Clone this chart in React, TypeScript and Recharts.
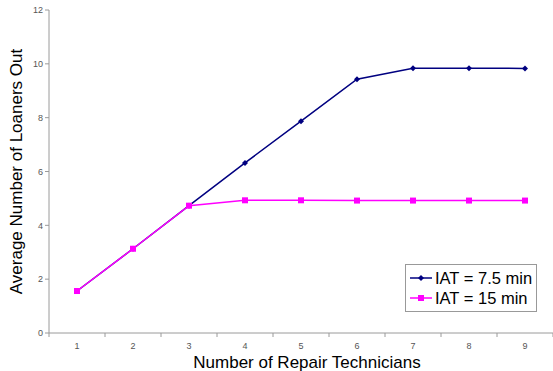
import { LineChart, Line, XAxis, YAxis, Legend } from "recharts";

const technicians = [1, 2, 3, 4, 5, 6, 7, 8, 9];
const iat75 = [1.56, 3.13, 4.73, 6.32, 7.87, 9.43, 9.84, 9.84, 9.83];
const iat15 = [1.56, 3.13, 4.73, 4.93, 4.93, 4.92, 4.92, 4.92, 4.92];
const yTicks = [0, 2, 4, 6, 8, 10, 12];
// excel puts the tick marks between categories, labels in the middle
const xTicks = [0.5, 1, 1.5, 2, 2.5, 3, 3.5, 4, 4.5, 5, 5.5, 6, 6.5, 7, 7.5, 8, 8.5, 9, 9.5];

const data = technicians.map((t, i) => ({ t, a: iat75[i], b: iat15[i] }));

const FONT = '"Liberation Sans", Arial, sans-serif';
const AXIS = "#9a9a9a";

// blue diamonds, pink squares like the old Excel defaults
const Diamond = (props: any) => {
    const { cx, cy } = props;
    if (cx == null || cy == null) return null;
    return <path d={`M${cx},${cy - 3}L${cx + 3},${cy}L${cx},${cy + 3}L${cx - 3},${cy}Z`} fill="#000080" />;
};

const Square = (props: any) => {
    const { cx, cy } = props;
    if (cx == null || cy == null) return null;
    return <rect x={cx - 3} y={cy - 3} width={6} height={6} fill="#ff00ff" />;
};

const XTick = (props: any) => {
    const { x, y, payload } = props;
    const v = payload.value;
    if (Number.isInteger(v)) {
        return (
            <text x={x} y={y + 16} textAnchor="middle" fontSize={9} fill="#555" fontFamily={FONT}>
                {v}
            </text>
        );
    }
    return <line x1={x} y1={y} x2={x} y2={y + 4} stroke={AXIS} />;
};

function LegendBox({ payload }: any) {
    return (
        <div style={{ border: "1px solid #999", background: "#fff", padding: "3px 4px 3px 4px", fontFamily: FONT, fontSize: 16.5, color: "#000" }}>
            {(payload || []).map((p: any, i: number) => (
                <div key={i} style={{ display: "flex", alignItems: "center", height: 20 }}>
                    <svg width={22} height={10} style={{ marginRight: 3 }}>
                        <line x1={0} y1={5} x2={22} y2={5} stroke={p.color} strokeWidth={1.5} />
                        {p.dataKey === "a"
                            ? <path d="M11,2L14,5L11,8L8,5Z" fill={p.color} />
                            : <rect x={8} y={2} width={6} height={6} fill={p.color} />}
                    </svg>
                    <span>{p.value}</span>
                </div>
            ))}
        </div>
    );
}

export default function App() {
    return (
        <div style={{ position: "absolute", left: 0, top: 0, background: "#fff" }}>
            <LineChart width={553} height={371} data={data} margin={{ top: 10, right: 0, left: 8, bottom: 0 }}>
                <XAxis
                    dataKey="t"
                    type="number"
                    domain={[0.5, 9.5]}
                    ticks={xTicks}
                    interval={0}
                    tickLine={false}
                    tickSize={0}
                    tickMargin={0}
                    stroke={AXIS}
                    height={38}
                    tick={<XTick />}
                    label={{ value: "Number of Repair Technicians", position: "insideBottom", offset: 3, dx: 6, fontSize: 17, fill: "#000", fontFamily: FONT }}
                />
                <YAxis
                    domain={[0, 12]}
                    ticks={yTicks}
                    width={41}
                    stroke={AXIS}
                    tickSize={4}
                    tick={{ fontSize: 9, fill: "#555", fontFamily: FONT }}
                    label={{ value: "Average Number of Loaners Out", angle: -90, position: "insideLeft", offset: 2, dx: 6, style: { textAnchor: "middle" }, fontSize: 17, fill: "#000", fontFamily: FONT }}
                />
                <Legend
                    layout="vertical"
                    verticalAlign="middle"
                    align="center"
                    itemSorter="dataKey"
                    wrapperStyle={{ left: 405, top: 264, width: "auto" }}
                    content={<LegendBox />}
                />
                <Line
                    dataKey="a"
                    name="IAT = 7.5 min"
                    stroke="#000080"
                    strokeWidth={1.5}
                    dot={<Diamond />}
                    activeDot={false}
                    isAnimationActive={false}
                />
                <Line
                    dataKey="b"
                    name="IAT = 15 min"
                    stroke="#ff00ff"
                    strokeWidth={1.5}
                    dot={<Square />}
                    activeDot={false}
                    isAnimationActive={false}
                />
            </LineChart>
        </div>
    );
}
